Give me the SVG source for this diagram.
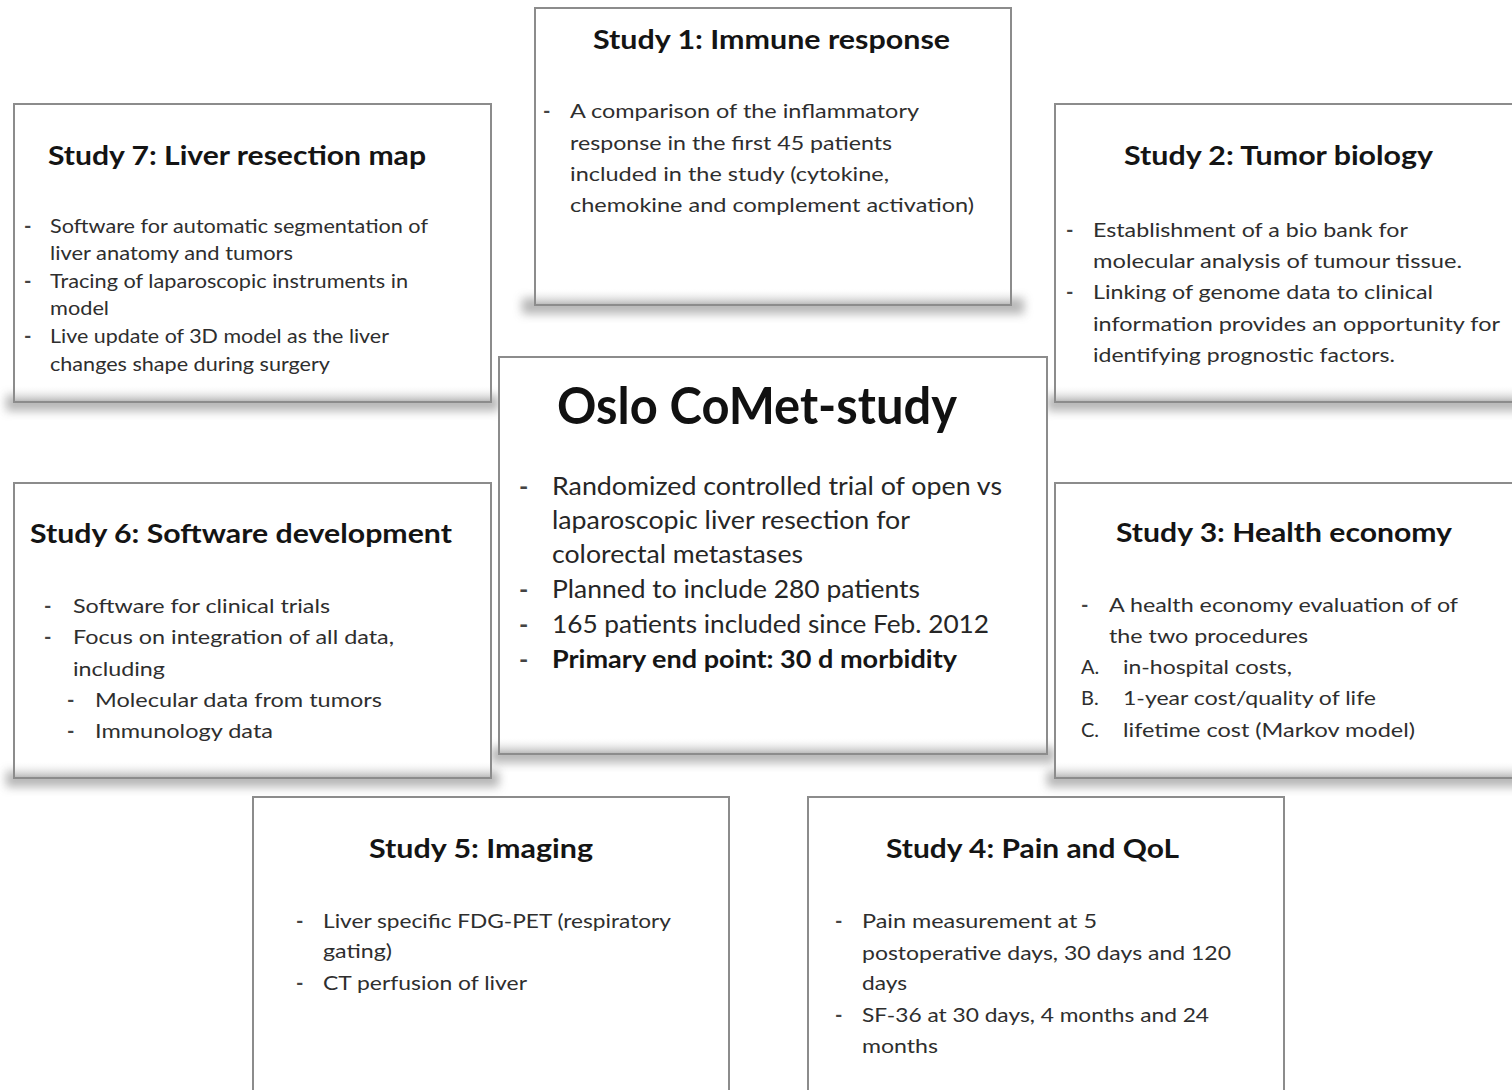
<svg xmlns="http://www.w3.org/2000/svg" width="1512" height="1090" viewBox="0 0 1512 1090">
  <defs>
    <filter id="soft" x="-10%" y="-200%" width="120%" height="500%">
      <feGaussianBlur stdDeviation="5"/>
    </filter>
    <linearGradient id="inner" x1="0" y1="0" x2="0" y2="1">
      <stop offset="0" stop-color="#ffffff" stop-opacity="0"/>
      <stop offset="1" stop-color="#b5b5b5" stop-opacity="0.9"/>
    </linearGradient>
    <style>
      .box { fill: #ffffff; stroke: #8c8c8c; stroke-width: 2; }
      .shade { fill: #6e6e6e; opacity: 0.5; filter: url(#soft); }
      .inner { fill: url(#inner); }
      .title { font-family: Lato, "Open Sans", sans-serif; font-weight: 700; font-size: 27.5px; fill: #141414; }
      .big { font-family: Lato, "Open Sans", sans-serif; font-weight: 700; font-size: 51px; fill: #111111; }
      .body { font-family: Lato, "Open Sans", sans-serif; font-size: 20px; fill: #2e2e2e; }
      .main { font-family: Lato, "Open Sans", sans-serif; font-size: 25.5px; fill: #262626; }
      .strong { font-weight: 700; fill: #151515; }
      .dash { font-family: Lato, "Open Sans", sans-serif; font-weight: 700; font-size: 20px; fill: #444444; }
    </style>
  </defs>

  <rect x="0" y="0" width="1512" height="1090" fill="#ffffff"/>

  <!-- drop shadows under every card -->
  <g id="shadows">
    <rect class="shade" x="522" y="298" width="502" height="16"/>
    <rect class="shade" x="6" y="395" width="493" height="16"/>
    <rect class="shade" x="1047" y="395" width="478" height="16"/>
    <rect class="shade" x="491" y="747" width="564" height="16"/>
    <rect class="shade" x="6" y="771" width="493" height="16"/>
    <rect class="shade" x="1047" y="771" width="478" height="16"/>
  </g>

  <g id="connectors"></g>

  <!-- Study 1 -->
  <g id="study1">
    <rect class="box" x="535" y="8" width="476" height="297"/>
    <rect class="inner" x="536" y="288" width="474" height="16"/>
    <text class="title" x="593" y="49" textLength="357" lengthAdjust="spacingAndGlyphs">Study 1: Immune response</text>
    <text class="dash" x="543" y="118">-</text>
    <text class="body" x="570" y="118" textLength="349" lengthAdjust="spacingAndGlyphs">A comparison of the inflammatory</text>
    <text class="body" x="570" y="150" textLength="322" lengthAdjust="spacingAndGlyphs">response in the first 45 patients</text>
    <text class="body" x="570" y="181" textLength="319" lengthAdjust="spacingAndGlyphs">included in the study (cytokine,</text>
    <text class="body" x="570" y="212" textLength="404" lengthAdjust="spacingAndGlyphs">chemokine and complement activation)</text>
  </g>

  <!-- Study 7 -->
  <g id="study7">
    <rect class="box" x="14" y="104" width="477" height="298"/>
    <rect class="inner" x="15" y="385" width="475" height="16"/>
    <text class="title" x="48" y="165" textLength="378" lengthAdjust="spacingAndGlyphs">Study 7: Liver resection map</text>
    <text class="dash" x="24" y="233">-</text>
    <text class="body" x="50" y="233" textLength="378" lengthAdjust="spacingAndGlyphs">Software for automatic segmentation of</text>
    <text class="body" x="50" y="260" textLength="243" lengthAdjust="spacingAndGlyphs">liver anatomy and tumors</text>
    <text class="dash" x="24" y="288">-</text>
    <text class="body" x="50" y="288" textLength="358" lengthAdjust="spacingAndGlyphs">Tracing of laparoscopic instruments in</text>
    <text class="body" x="50" y="315" textLength="59" lengthAdjust="spacingAndGlyphs">model</text>
    <text class="dash" x="24" y="343">-</text>
    <text class="body" x="50" y="343" textLength="339" lengthAdjust="spacingAndGlyphs">Live update of 3D model as the liver</text>
    <text class="body" x="50" y="371" textLength="280" lengthAdjust="spacingAndGlyphs">changes shape during surgery</text>
  </g>

  <!-- Study 2 -->
  <g id="study2">
    <rect class="box" x="1055" y="104" width="470" height="298"/>
    <rect class="inner" x="1056" y="385" width="468" height="16"/>
    <text class="title" x="1124" y="165" textLength="309" lengthAdjust="spacingAndGlyphs">Study 2: Tumor biology</text>
    <text class="dash" x="1066" y="237">-</text>
    <text class="body" x="1093" y="237" textLength="315" lengthAdjust="spacingAndGlyphs">Establishment of a bio bank for</text>
    <text class="body" x="1093" y="268" textLength="369" lengthAdjust="spacingAndGlyphs">molecular analysis of tumour tissue.</text>
    <text class="dash" x="1066" y="299">-</text>
    <text class="body" x="1093" y="299" textLength="340" lengthAdjust="spacingAndGlyphs">Linking of genome data to clinical</text>
    <text class="body" x="1093" y="331" textLength="407" lengthAdjust="spacingAndGlyphs">information provides an opportunity for</text>
    <text class="body" x="1093" y="362" textLength="302" lengthAdjust="spacingAndGlyphs">identifying prognostic factors.</text>
  </g>

  <!-- Central study -->
  <g id="comet">
    <rect class="box" x="499" y="357" width="548" height="397"/>
    <rect class="inner" x="500" y="737" width="546" height="16"/>
    <text class="big" x="557" y="424" textLength="400" lengthAdjust="spacingAndGlyphs">Oslo CoMet-study</text>
    <text class="dash" x="519" y="495" style="font-size:25px">-</text>
    <text class="main" x="552" y="495" textLength="450" lengthAdjust="spacingAndGlyphs">Randomized controlled trial of open vs</text>
    <text class="main" x="552" y="529" textLength="358" lengthAdjust="spacingAndGlyphs">laparoscopic liver resection for</text>
    <text class="main" x="552" y="563" textLength="251" lengthAdjust="spacingAndGlyphs">colorectal metastases</text>
    <text class="dash" x="519" y="598" style="font-size:25px">-</text>
    <text class="main" x="552" y="598" textLength="368" lengthAdjust="spacingAndGlyphs">Planned to include 280 patients</text>
    <text class="dash" x="519" y="633" style="font-size:25px">-</text>
    <text class="main" x="552" y="633" textLength="437" lengthAdjust="spacingAndGlyphs">165 patients included since Feb. 2012</text>
    <text class="dash strong" x="519" y="668" style="font-size:25px">-</text>
    <text class="main strong" x="552" y="668" textLength="405" lengthAdjust="spacingAndGlyphs">Primary end point: 30 d morbidity</text>
  </g>

  <!-- Study 6 -->
  <g id="study6">
    <rect class="box" x="14" y="483" width="477" height="295"/>
    <rect class="inner" x="15" y="761" width="475" height="16"/>
    <text class="title" x="30" y="543" textLength="422" lengthAdjust="spacingAndGlyphs">Study 6: Software development</text>
    <text class="dash" x="44" y="613">-</text>
    <text class="body" x="73" y="613" textLength="257" lengthAdjust="spacingAndGlyphs">Software for clinical trials</text>
    <text class="dash" x="44" y="644">-</text>
    <text class="body" x="73" y="644" textLength="321" lengthAdjust="spacingAndGlyphs">Focus on integration of all data,</text>
    <text class="body" x="73" y="676" textLength="92" lengthAdjust="spacingAndGlyphs">including</text>
    <text class="dash" x="67" y="707">-</text>
    <text class="body" x="95" y="707" textLength="287" lengthAdjust="spacingAndGlyphs">Molecular data from tumors</text>
    <text class="dash" x="67" y="738">-</text>
    <text class="body" x="95" y="738" textLength="178" lengthAdjust="spacingAndGlyphs">Immunology data</text>
  </g>

  <!-- Study 3 -->
  <g id="study3">
    <rect class="box" x="1055" y="483" width="470" height="295"/>
    <rect class="inner" x="1056" y="761" width="468" height="16"/>
    <text class="title" x="1116" y="542" textLength="336" lengthAdjust="spacingAndGlyphs">Study 3: Health economy</text>
    <text class="dash" x="1081" y="612">-</text>
    <text class="body" x="1109" y="612" textLength="349" lengthAdjust="spacingAndGlyphs">A health economy evaluation of of</text>
    <text class="body" x="1109" y="643" textLength="199" lengthAdjust="spacingAndGlyphs">the two procedures</text>
    <text class="body" x="1081" y="674">A.</text>
    <text class="body" x="1123" y="674" textLength="169" lengthAdjust="spacingAndGlyphs">in-hospital costs,</text>
    <text class="body" x="1081" y="705">B.</text>
    <text class="body" x="1123" y="705" textLength="253" lengthAdjust="spacingAndGlyphs">1-year cost/quality of life</text>
    <text class="body" x="1081" y="737">C.</text>
    <text class="body" x="1123" y="737" textLength="292" lengthAdjust="spacingAndGlyphs">lifetime cost (Markov model)</text>
  </g>

  <!-- Study 5 -->
  <g id="study5">
    <rect class="box" x="253" y="797" width="476" height="310"/>
    <text class="title" x="369" y="858" textLength="224" lengthAdjust="spacingAndGlyphs">Study 5: Imaging</text>
    <text class="dash" x="296" y="928">-</text>
    <text class="body" x="323" y="928" textLength="348" lengthAdjust="spacingAndGlyphs">Liver specific FDG-PET (respiratory</text>
    <text class="body" x="323" y="958" textLength="69" lengthAdjust="spacingAndGlyphs">gating)</text>
    <text class="dash" x="296" y="990">-</text>
    <text class="body" x="323" y="990" textLength="204" lengthAdjust="spacingAndGlyphs">CT perfusion of liver</text>
  </g>

  <!-- Study 4 -->
  <g id="study4">
    <rect class="box" x="808" y="797" width="476" height="310"/>
    <text class="title" x="886" y="858" textLength="293" lengthAdjust="spacingAndGlyphs">Study 4: Pain and QoL</text>
    <text class="dash" x="835" y="928">-</text>
    <text class="body" x="862" y="928" textLength="235" lengthAdjust="spacingAndGlyphs">Pain measurement at 5</text>
    <text class="body" x="862" y="960" textLength="369" lengthAdjust="spacingAndGlyphs">postoperative days, 30 days and 120</text>
    <text class="body" x="862" y="990" textLength="45" lengthAdjust="spacingAndGlyphs">days</text>
    <text class="dash" x="835" y="1022">-</text>
    <text class="body" x="862" y="1022" textLength="347" lengthAdjust="spacingAndGlyphs">SF-36 at 30 days, 4 months and 24</text>
    <text class="body" x="862" y="1053" textLength="76" lengthAdjust="spacingAndGlyphs">months</text>
  </g>
</svg>
